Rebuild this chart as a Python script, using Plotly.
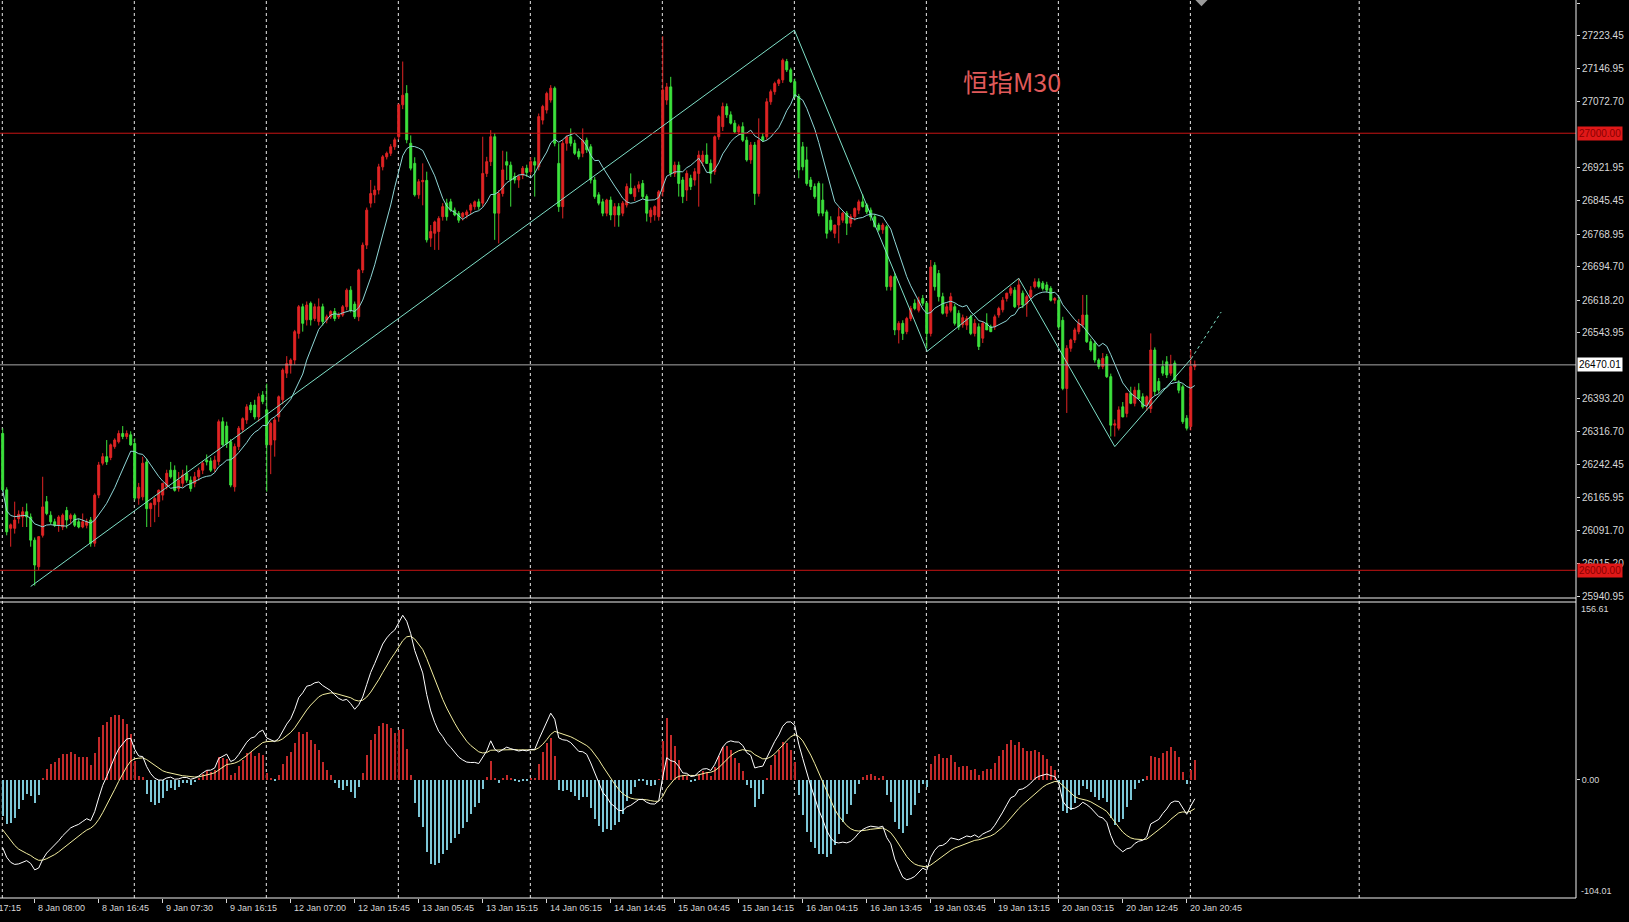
import pandas as pd
import plotly.graph_objects as go

# ---------------- data (M30 bars) ----------------
opens = [26313, 26184, 26096, 26096, 26118, 26122, 26134, 26122, 26069, 26008,
         26080, 26157, 26126, 26111, 26103, 26099, 26137, 26118, 26126, 26111,
         26099, 26103, 26115, 26062, 26172, 26245, 26260, 26258, 26283, 26294,
         26313, 26306, 26310, 26290, 26165, 26168, 26248, 26141, 26150, 26157,
         26172, 26191, 26229, 26229, 26187, 26199, 26222, 26206, 26199, 26214,
         26229, 26252, 26250, 26233, 26249, 26340, 26330, 26294, 26191, 26283,
         26322, 26344, 26378, 26378, 26351, 26401, 26367, 26287, 26298, 26351,
         26390, 26451, 26470, 26481, 26542, 26603, 26573, 26611, 26576, 26569,
         26603, 26573, 26580, 26592, 26580, 26584, 26603, 26641, 26609, 26580,
         26687, 26744, 26840, 26859, 26870, 26923, 26946, 26954, 26969, 26992,
         27065, 27091, 26977, 26931, 26859, 26889, 26892, 26760, 26771, 26775,
         26809, 26840, 26843, 26824, 26817, 26809, 26813, 26824, 26832, 26843,
         26840, 26908, 26935, 26992, 26817, 26862, 26935, 26927, 26901, 26893,
         26904, 26920, 26912, 26935, 26923, 27030, 27053, 27076, 27103, 26931,
         26832, 26977, 26992, 26977, 26958, 26954, 26984, 26969, 26893, 26859,
         26843, 26817, 26847, 26813, 26832, 26817, 26836, 26874, 26855, 26874,
         26885, 26855, 26809, 26813, 26809, 26866, 27076, 27106, 26908, 26927,
         26893, 26870, 26897, 26893, 26908, 26935, 26950, 26931, 26912, 26992,
         27015, 27061, 27042, 27023, 27003, 27015, 26984, 26939, 26973, 26862,
         26992, 26992, 27072, 27095, 27114, 27122, 27164, 27145, 27118, 27084,
         26969, 26939, 26893, 26878, 26885, 26847, 26820, 26801, 26771, 26790,
         26801, 26817, 26794, 26809, 26824, 26843, 26836, 26824, 26809, 26790,
         26779, 26786, 26649, 26672, 26550, 26565, 26546, 26576, 26611, 26595,
         26622, 26611, 26542, 26698, 26679, 26626, 26588, 26595, 26603, 26588,
         26562, 26561, 26580, 26542, 26557, 26531, 26565, 26557, 26557, 26584,
         26596, 26622, 26634, 26641, 26607, 26634, 26610, 26626, 26649, 26660,
         26657, 26653, 26645, 26618, 26618, 26572, 26416, 26508, 26527, 26546,
         26561, 26584, 26523, 26519, 26481, 26466, 26489, 26443, 26332, 26325,
         26374, 26359, 26405, 26382, 26412, 26397, 26378, 26370, 26504, 26432,
         26466, 26477, 26451, 26474, 26428, 26420, 26348, 26329, 26466]
highs = [26325, 26190, 26107, 26157, 26137, 26145, 26153, 26130, 26075, 26030,
         26214, 26170, 26135, 26118, 26126, 26130, 26145, 26130, 26130, 26118,
         26130, 26118, 26122, 26176, 26248, 26268, 26298, 26290, 26302, 26320,
         26330, 26320, 26318, 26302, 26200, 26260, 26255, 26155, 26168, 26185,
         26200, 26230, 26248, 26240, 26225, 26230, 26240, 26215, 26225, 26235,
         26250, 26265, 26258, 26262, 26345, 26350, 26340, 26300, 26290, 26330,
         26350, 26380, 26385, 26390, 26405, 26410, 26427, 26340, 26350, 26400,
         26462, 26490, 26485, 26550, 26607, 26610, 26615, 26615, 26610, 26622,
         26610, 26585, 26595, 26600, 26590, 26607, 26645, 26650, 26615, 26690,
         26750, 26830, 26893, 26880, 26930, 26950, 26958, 26975, 26990, 27068,
         27164, 27110, 26995, 26945, 26895, 26931, 26912, 26790, 26800, 26810,
         26840, 26850, 26850, 26830, 26822, 26820, 26825, 26840, 26846, 26850,
         26992, 26946, 27007, 27000, 26870, 26960, 26958, 26935, 26910, 26905,
         26925, 26928, 26945, 26945, 27045, 27065, 27095, 27110, 27107, 26977,
         26984, 26995, 27011, 26985, 26965, 27011, 26990, 26975, 26900, 26865,
         26850, 26850, 26855, 26840, 26840, 26845, 26885, 26908, 26880, 26890,
         26893, 26860, 26830, 26835, 26870, 27222, 27115, 27129, 26935, 26935,
         26900, 26915, 26905, 26920, 26960, 26960, 26977, 26940, 26995, 27042,
         27070, 27068, 27050, 27030, 27020, 27025, 26992, 26980, 26980, 27034,
         27000, 27080, 27100, 27118, 27125, 27171, 27170, 27150, 27125, 27090,
         26980, 26969, 26900, 26885, 26890, 26885, 26825, 26810, 26790, 26830,
         26820, 26822, 26815, 26830, 26848, 26860, 26840, 26830, 26815, 26795,
         26795, 26790, 26675, 26680, 26570, 26572, 26580, 26605, 26620, 26626,
         26630, 26615, 26710, 26705, 26687, 26635, 26610, 26635, 26610, 26595,
         26585, 26582, 26585, 26575, 26565, 26570, 26588, 26562, 26585, 26603,
         26625, 26635, 26650, 26648, 26668, 26640, 26630, 26650, 26668, 26668,
         26662, 26660, 26650, 26625, 26625, 26580, 26515, 26530, 26555, 26575,
         26630, 26630, 26530, 26525, 26485, 26497, 26495, 26450, 26345, 26375,
         26385, 26405, 26420, 26420, 26428, 26405, 26400, 26542, 26510, 26440,
         26480, 26490, 26493, 26480, 26435, 26425, 26355, 26504, 26480]
lows = [26180, 26080, 26054, 26084, 26107, 26099, 26099, 26054, 25965, 26000,
        26075, 26126, 26105, 26099, 26088, 26092, 26096, 26107, 26099, 26096,
        26096, 26096, 26054, 26054, 26165, 26240, 26241, 26252, 26278, 26290,
        26300, 26300, 26285, 26160, 26150, 26160, 26099, 26099, 26110, 26122,
        26160, 26185, 26210, 26180, 26180, 26190, 26200, 26180, 26190, 26205,
        26220, 26240, 26225, 26225, 26240, 26285, 26280, 26190, 26180, 26275,
        26315, 26335, 26360, 26345, 26340, 26380, 26180, 26220, 26260, 26340,
        26380, 26440, 26450, 26470, 26530, 26546, 26560, 26560, 26570, 26560,
        26560, 26565, 26575, 26570, 26575, 26580, 26595, 26590, 26575, 26570,
        26680, 26735, 26830, 26840, 26860, 26915, 26940, 26948, 26962, 26985,
        27055, 26977, 26915, 26855, 26850, 26835, 26750, 26740, 26733, 26733,
        26800, 26800, 26820, 26810, 26795, 26800, 26805, 26815, 26825, 26825,
        26832, 26900, 26925, 26756, 26748, 26855, 26893, 26832, 26885, 26875,
        26895, 26900, 26905, 26855, 26915, 27020, 27045, 27070, 26970, 26820,
        26805, 26960, 26970, 26950, 26940, 26945, 26955, 26885, 26850, 26835,
        26810, 26810, 26801, 26786, 26786, 26810, 26830, 26860, 26845, 26865,
        26850, 26798, 26795, 26800, 26800, 26855, 27065, 26900, 26900, 26855,
        26840, 26845, 26870, 26880, 26832, 26925, 26935, 26885, 26905, 26985,
        27005, 27035, 27020, 27000, 26995, 26980, 26935, 26930, 26836, 26855,
        26980, 26985, 27065, 27088, 27108, 27115, 27140, 27115, 27080, 26897,
        26915, 26880, 26870, 26850, 26810, 26810, 26759, 26775, 26760, 26748,
        26795, 26767, 26785, 26800, 26815, 26830, 26815, 26800, 26785, 26775,
        26770, 26640, 26640, 26538, 26519, 26527, 26540, 26570, 26595, 26590,
        26605, 26508, 26535, 26640, 26615, 26585, 26580, 26590, 26560, 26550,
        26555, 26550, 26538, 26535, 26504, 26520, 26550, 26545, 26550, 26578,
        26590, 26615, 26628, 26600, 26600, 26600, 26580, 26620, 26645, 26645,
        26640, 26635, 26615, 26610, 26550, 26412, 26360, 26500, 26520, 26540,
        26555, 26520, 26500, 26475, 26460, 26460, 26440, 26306, 26306, 26320,
        26350, 26350, 26380, 26375, 26390, 26370, 26365, 26360, 26400, 26405,
        26445, 26440, 26445, 26435, 26405, 26335, 26320, 26320, 26458]
closes = [26184, 26088, 26104, 26115, 26128, 26134, 26122, 26069, 26012, 26077,
          26145, 26130, 26111, 26103, 26122, 26126, 26115, 26126, 26103, 26099,
          26111, 26111, 26062, 26172, 26241, 26260, 26248, 26287, 26298, 26313,
          26306, 26313, 26287, 26165, 26190, 26245, 26141, 26153, 26164, 26183,
          26199, 26222, 26214, 26183, 26206, 26218, 26206, 26187, 26214, 26229,
          26245, 26248, 26229, 26252, 26340, 26287, 26290, 26195, 26283, 26325,
          26347, 26374, 26367, 26351, 26397, 26386, 26287, 26336, 26344, 26397,
          26458, 26473, 26481, 26546, 26603, 26565, 26607, 26573, 26603, 26603,
          26569, 26580, 26592, 26576, 26584, 26603, 26641, 26595, 26580, 26687,
          26744, 26824, 26862, 26870, 26923, 26946, 26954, 26969, 26985, 27065,
          27087, 26985, 26920, 26859, 26889, 26892, 26756, 26775, 26797, 26805,
          26832, 26809, 26824, 26813, 26801, 26817, 26820, 26836, 26843, 26832,
          26908, 26935, 26992, 26817, 26862, 26916, 26927, 26893, 26893, 26901,
          26920, 26910, 26935, 26927, 27038, 27061, 27091, 27103, 26977, 26832,
          26977, 26992, 26977, 26954, 26946, 26984, 26962, 26893, 26855, 26840,
          26817, 26847, 26813, 26832, 26813, 26840, 26878, 26862, 26874, 26882,
          26855, 26817, 26824, 26832, 26866, 27099, 27106, 26908, 26927, 26885,
          26855, 26908, 26878, 26912, 26950, 26950, 26931, 26908, 26992, 27038,
          27061, 27042, 27023, 27003, 27015, 26984, 26939, 26973, 26862, 26984,
          26984, 27072, 27095, 27114, 27122, 27167, 27145, 27118, 27084, 26916,
          26923, 26885, 26878, 26855, 26817, 26817, 26771, 26779, 26790, 26809,
          26817, 26794, 26809, 26828, 26843, 26832, 26820, 26809, 26786, 26779,
          26790, 26649, 26672, 26550, 26565, 26542, 26576, 26599, 26599, 26618,
          26611, 26542, 26694, 26649, 26626, 26588, 26603, 26626, 26565, 26557,
          26578, 26576, 26542, 26565, 26512, 26565, 26550, 26546, 26580, 26599,
          26618, 26634, 26645, 26603, 26653, 26607, 26626, 26641, 26660, 26649,
          26645, 26641, 26618, 26622, 26557, 26416, 26508, 26527, 26550, 26565,
          26584, 26523, 26504, 26481, 26466, 26485, 26443, 26332, 26335, 26367,
          26351, 26405, 26382, 26412, 26393, 26374, 26397, 26504, 26409, 26412,
          26451, 26447, 26470, 26435, 26412, 26340, 26325, 26466, 26470]

# hand-drawn zigzag / trend line vertices (bar index, price)
zz_bars = [7.0, 197.9, 231.1, 254.0, 278.0, 297.1]
zz_prices = [25963, 27236, 26501, 26668, 26283, 26484]
zz_ext_bars = [297.1, 304.6]
zz_ext_prices = [26484, 26591]

# horizontal levels
level_red = [27000.00, 26000.00]
last_price = 26470.01

ma_period = 10
macd_fast, macd_slow, macd_signal = 12, 26, 9
ema_fast_start, ema_slow_start, dea_start = 26260.0, 26318.0, -40.0

# axis labels
price_ticks = [27297.70, 27223.45, 27146.95, 27072.70, 26921.95, 26845.45,
               26768.95, 26694.70, 26618.20, 26543.95, 26393.20, 26316.70,
               26242.45, 26165.95, 26091.70, 26015.20, 25940.95]
macd_max, macd_min = 156.61, -104.01
time_labels = ["7 Jan 17:15", "8 Jan 08:00", "8 Jan 16:45", "9 Jan 07:30",
               "9 Jan 16:15", "12 Jan 07:00", "12 Jan 15:45", "13 Jan 05:45",
               "13 Jan 15:15", "14 Jan 05:15", "14 Jan 14:45", "15 Jan 04:45",
               "15 Jan 14:15", "16 Jan 04:15", "16 Jan 13:45", "19 Jan 03:45",
               "19 Jan 13:15", "20 Jan 03:15", "20 Jan 12:45", "20 Jan 20:45"]
time_label_bars = [-8 + 16 * k for k in range(len(time_labels))]
grid_bars = [-0.1 + 33 * k for k in range(10)] + [339.1]
title_text = "恒指M30"

# ---------------- derived indicators ----------------
bars = list(range(len(closes)))
cs = pd.Series(closes, dtype=float)
ma = cs.rolling(ma_period, min_periods=1).mean()


def ema(values, n, start):
    a = 2.0 / (n + 1)
    out, prev = [], start
    for v in values:
        prev = prev + a * (v - prev)
        out.append(prev)
    return out


ef = ema(closes, macd_fast, ema_fast_start)
es = ema(closes, macd_slow, ema_slow_start)
dif = [f - s for f, s in zip(ef, es)]
dea = ema(dif, macd_signal, dea_start)
hist = [2 * (d - e) for d, e in zip(dif, dea)]

# ---------------- figure ----------------
FG = "#d8d8d8"
RED = "#e02424"
GREEN = "#3ce23c"
xr = [-0.675, 393.3]
ymin_p, ymax_p = 25936.6, 27304.8

fig = go.Figure()

fig.add_trace(go.Candlestick(
    x=bars, open=opens, high=highs, low=lows, close=closes,
    increasing=dict(line=dict(color=RED, width=1), fillcolor=RED),
    decreasing=dict(line=dict(color=GREEN, width=1), fillcolor=GREEN),
    whiskerwidth=0, xaxis="x", yaxis="y", hoverinfo="skip", showlegend=False))

fig.add_trace(go.Scatter(x=bars, y=ma, mode="lines",
                         line=dict(color="#8fd6d6", width=1),
                         xaxis="x", yaxis="y", hoverinfo="skip", showlegend=False))
fig.add_trace(go.Scatter(x=zz_bars, y=zz_prices, mode="lines",
                         line=dict(color="#7fe0c8", width=1),
                         xaxis="x", yaxis="y", hoverinfo="skip", showlegend=False))
fig.add_trace(go.Scatter(x=zz_ext_bars, y=zz_ext_prices, mode="lines",
                         line=dict(color="#7fe0c8", width=1, dash="3px,3px"),
                         xaxis="x", yaxis="y", hoverinfo="skip", showlegend=False))

hist_colors = ["#c42a2a" if h >= 0 else "#7cc6d6" for h in hist]
fig.add_trace(go.Bar(x=bars, y=hist, marker=dict(color=hist_colors, line=dict(width=0)),
                     width=0.35, xaxis="x2", yaxis="y2", hoverinfo="skip", showlegend=False))
fig.add_trace(go.Scatter(x=bars, y=dea, mode="lines",
                         line=dict(color="#f3eea0", width=1),
                         xaxis="x2", yaxis="y2", hoverinfo="skip", showlegend=False))
fig.add_trace(go.Scatter(x=bars, y=dif, mode="lines",
                         line=dict(color="#ffffff", width=1),
                         xaxis="x2", yaxis="y2", hoverinfo="skip", showlegend=False))

P_BOT = 1 - 598 / 898
M_TOP = 1 - 602 / 898

shapes = []
for gb in grid_bars:
    shapes.append(dict(type="line", xref="x", yref="paper", x0=gb, x1=gb, y0=0, y1=1,
                       line=dict(color="#e8e8e8", width=1, dash="3px,3px"), layer="below"))
for lv in level_red:
    shapes.append(dict(type="line", xref="paper", yref="y", x0=0, x1=1, y0=lv, y1=lv,
                       line=dict(color="#c81414", width=1)))
shapes.append(dict(type="line", xref="paper", yref="y", x0=0, x1=1, y0=last_price, y1=last_price,
                   line=dict(color="#a8a8a8", width=1)))
# panel frames
for yy in (P_BOT, M_TOP, 0):
    shapes.append(dict(type="line", xref="paper", yref="paper", x0=0, x1=1, y0=yy, y1=yy,
                       line=dict(color="#f0f0f0", width=1)))
shapes.append(dict(type="line", xref="paper", yref="paper", x0=1, x1=1, y0=0, y1=1,
                   line=dict(color="#f0f0f0", width=1)))
# chart-shift marker
shapes.append(dict(type="path", xref="paper", yref="paper",
                   path="M 0.7585 1 L 0.7662 1 L 0.76235 0.993 Z",
                   fillcolor="#9a9a9a", line=dict(width=0)))

ann = []
FONT = "Liberation Sans, Arial, sans-serif"
FS = 9      # time axis / MACD scale
FSP = 10    # price scale
for lbl, b in zip(time_labels, time_label_bars):
    if b < xr[0]:
        ann.append(dict(text=lbl, xref="paper", x=(2.7 + 4 * b) / 1576, yref="paper", y=0,
                        xanchor="left", yanchor="top", yshift=-3, xshift=1, showarrow=False,
                        font=dict(family=FONT, size=FS, color=FG)))
    else:
        ann.append(dict(text=lbl, xref="x2", x=b, yref="paper", y=0,
                        xanchor="left", yanchor="top", yshift=-3, xshift=1, showarrow=False,
                        font=dict(family=FONT, size=FS, color=FG)))
for lv in level_red:
    ann.append(dict(text=f"{lv:.2f}", xref="paper", x=1, xshift=1, yref="y", y=lv,
                    xanchor="left", yanchor="middle", showarrow=False, bgcolor="#e01818",
                    borderpad=1, font=dict(family=FONT, size=FSP, color="#8a0000")))
ann.append(dict(text=f"{last_price:.2f}", xref="paper", x=1, xshift=1, yref="y", y=last_price,
                xanchor="left", yanchor="middle", showarrow=False, bgcolor="#ffffff",
                borderpad=1, font=dict(family=FONT, size=FSP, color="#000000")))
ann.append(dict(text=f"{macd_max:.2f}", xref="paper", x=1, xshift=3, yref="y2", y=macd_max,
                xanchor="left", yanchor="top", showarrow=False,
                font=dict(family=FONT, size=FS, color=FG)))
ann.append(dict(text=f"{macd_min:.2f}", xref="paper", x=1, xshift=3, yref="y2", y=macd_min,
                xanchor="left", yanchor="bottom", showarrow=False,
                font=dict(family=FONT, size=FS, color=FG)))
ann.append(dict(text=title_text, xref="x", x=239.5, yref="y", y=27119,
                xanchor="left", yanchor="middle", showarrow=False,
                font=dict(family="Noto Sans CJK SC", size=25, color="#e05a5a")))

fig.update_layout(
    width=1629, height=922,
    margin=dict(l=0, r=53, t=0, b=24, pad=0),
    paper_bgcolor="#000000", plot_bgcolor="#000000",
    showlegend=False, bargap=0,
    xaxis=dict(domain=[0, 1], range=xr, anchor="y", showgrid=False, zeroline=False,
               showticklabels=False, ticks="", rangeslider=dict(visible=False),
               showline=False, automargin=False),
    yaxis=dict(domain=[P_BOT, 1], range=[ymin_p, ymax_p], side="right", anchor="x",
               tickvals=price_ticks, ticktext=[f"{v:.2f}" for v in price_ticks],
               ticks="outside", ticklen=3, tickcolor=FG, showgrid=False, zeroline=False,
               tickfont=dict(family=FONT, size=FSP, color=FG), showline=False,
               automargin=False),
    xaxis2=dict(domain=[0, 1], range=xr, anchor="y2", showgrid=False, zeroline=False,
                tickvals=[b for b in time_label_bars if b >= xr[0]], ticks="outside",
                ticklen=4, tickcolor=FG, showticklabels=False, showline=False,
                automargin=False),
    yaxis2=dict(domain=[0, M_TOP], range=[macd_min, macd_max], side="right", anchor="x2",
                tickvals=[0], ticktext=["0.00"], ticks="outside", ticklen=3, tickcolor=FG,
                showgrid=False, zeroline=False,
                tickfont=dict(family=FONT, size=FS, color=FG), showline=False,
                automargin=False),
    shapes=shapes, annotations=ann,
)

fig.write_html("out.html", config={"displayModeBar": False},
               post_script="document.body.style.margin='0px';"
                           "document.body.style.background='#000000';")
